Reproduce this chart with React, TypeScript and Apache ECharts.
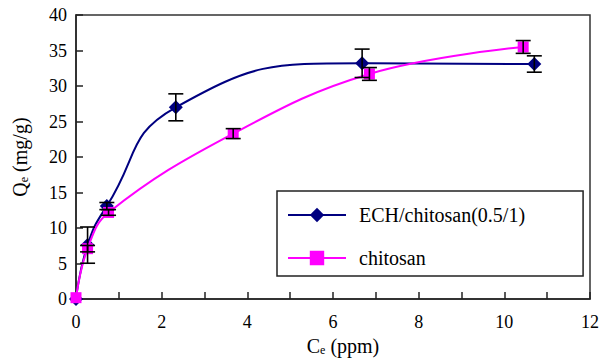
import React, { useEffect, useRef } from 'react';
import * as echarts from 'echarts';

// ECH/chitosan(0.5/1) series
const echName = 'ECH/chitosan(0.5/1)';
const echX = [0, 0.27, 0.72, 2.33, 6.68, 10.7];
const echY = [0, 7.6, 13.1, 27.0, 33.2, 33.1];
const echErr = [0, 2.55, 0.5, 1.9, 2.0, 1.15];

// chitosan series
const chName = 'chitosan';
const chX = [0, 0.27, 0.76, 3.67, 6.85, 10.44];
const chY = [0.2, 7.1, 12.2, 23.3, 31.7, 35.5];
const chErr = [0, 0.45, 0.4, 0.7, 0.9, 0.9];

// axes
const xMin = 0;
const xMax = 12;
const xStep = 1;
const yMin = 0;
const yMax = 40;
const yStep = 5;

const FONT = 'Liberation Serif';
const FONT_CSS = `.chart-root svg text, .chart-root svg tspan { font-family: "Liberation Serif", "Times New Roman", serif !important; }`;

function buildOption(): any {
  const echData = echX.map((x, i) => [x, echY[i]]);
  const chData = chX.map((x, i) => [x, chY[i]]);
  const errData = (xs: number[], ys: number[], es: number[]) =>
    xs
      .map((x, i) => [x, ys[i] - es[i], ys[i] + es[i], es[i]])
      .filter((d) => d[3] > 0);

  const renderErr = (params: any, api: any) => {
    const x = api.value(0);
    const lo = api.value(1);
    const hi = api.value(2);
    const pLo = api.coord([x, lo]);
    const pHi = api.coord([x, hi]);
    const w = 7.5;
    const style = { stroke: '#000', lineWidth: 1.6, fill: 'none' };
    return {
      type: 'group',
      children: [
        { type: 'line', shape: { x1: pLo[0], y1: pLo[1], x2: pHi[0], y2: pHi[1] }, style },
        { type: 'line', shape: { x1: pLo[0] - w, y1: pLo[1], x2: pLo[0] + w, y2: pLo[1] }, style },
        { type: 'line', shape: { x1: pHi[0] - w, y1: pHi[1], x2: pHi[0] + w, y2: pHi[1] }, style },
      ],
    };
  };

  const axisLineStyle = { color: '#222', width: 1.5 };
  const subStyle = { fontFamily: FONT, fontSize: 12, color: '#000', verticalAlign: 'bottom', lineHeight: 12 };

  return {
    animation: false,
    textStyle: { fontFamily: FONT },
    grid: {
      left: 76,
      right: 6,
      top: 15,
      bottom: 57,
      show: true,
      borderColor: '#333',
      borderWidth: 1.5,
    },
    xAxis: {
      type: 'value',
      min: xMin,
      max: xMax,
      interval: xStep,
      axisLine: { show: true, onZero: false, lineStyle: axisLineStyle },
      axisTick: { show: true, inside: true, length: 7, lineStyle: axisLineStyle },
      splitLine: { show: false },
      axisLabel: {
        color: '#000',
        fontFamily: FONT,
        fontSize: 18,
        margin: 14,
        formatter: (v: number) => (v % 2 === 0 ? String(v) : ''),
      },
      name: 'C{sub|e} (ppm)',
      nameLocation: 'middle',
      nameGap: 36,
      nameTextStyle: {
        color: '#000',
        fontFamily: FONT,
        fontSize: 20,
        padding: [0, 0, 0, 20],
        rich: { sub: subStyle },
      },
    },
    yAxis: {
      type: 'value',
      min: yMin,
      max: yMax,
      interval: yStep,
      axisLine: { show: true, onZero: false, lineStyle: axisLineStyle },
      axisTick: { show: true, inside: true, length: 7, lineStyle: axisLineStyle },
      splitLine: { show: false },
      axisLabel: {
        color: '#000',
        fontFamily: FONT,
        fontSize: 18,
        margin: 9,
      },
      name: 'Q{sub|e} (mg/g)',
      nameLocation: 'middle',
      nameRotate: 90,
      nameGap: 46,
      nameTextStyle: {
        color: '#000',
        fontFamily: FONT,
        fontSize: 20,
        rich: { sub: subStyle },
      },
    },
    legend: {
      left: 277,
      top: 191,
      orient: 'vertical',
      data: [echName, chName],
      itemWidth: 58,
      itemHeight: 18,
      itemGap: 23,
      padding: [14, 58, 8, 10],
      borderColor: '#222',
      borderWidth: 1.5,
      backgroundColor: '#fff',
      textStyle: { color: '#000', fontFamily: FONT, fontSize: 20, padding: [0, 0, 0, 8] },
    },
    series: [
      {
        type: 'line',
        name: echName,
        data: echData,
        smooth: 0.5,
        symbol: 'diamond',
        symbolSize: 14,
        lineStyle: { color: '#000080', width: 2 },
        itemStyle: { color: '#000080' },
        z: 3,
      },
      {
        type: 'line',
        name: chName,
        data: chData,
        smooth: 0.4,
        symbol: 'rect',
        symbolSize: 11,
        lineStyle: { color: '#FF00FF', width: 2 },
        itemStyle: { color: '#FF00FF' },
        z: 4,
      },
      {
        type: 'custom',
        name: 'errECH',
        data: errData(echX, echY, echErr),
        renderItem: renderErr,
        encode: { x: 0, y: [1, 2] },
        z: 5,
        silent: true,
      },
      {
        type: 'custom',
        name: 'errCh',
        data: errData(chX, chY, chErr),
        renderItem: renderErr,
        encode: { x: 0, y: [1, 2] },
        z: 5,
        silent: true,
      },
    ],
  };
}

export default function App() {
  const ref = useRef<HTMLDivElement>(null);

  useEffect(() => {
    const chart = echarts.init(ref.current!, null, { renderer: 'svg' });
    let alive = true;
    const render = () => {
      if (alive) chart.setOption(buildOption(), true);
    };
    render();
    const fonts: any = (document as any).fonts;
    if (fonts && fonts.ready) {
      fonts.ready.then(() => render()).catch(() => null);
    }
    return () => {
      alive = false;
      chart.dispose();
    };
  }, []);

  return (
    <div>
      <style>{FONT_CSS}</style>
      <div
        ref={ref}
        className="chart-root"
        style={{ position: 'absolute', left: 0, top: 0, width: 602, height: 361, background: '#fff' }}
      />
    </div>
  );
}
